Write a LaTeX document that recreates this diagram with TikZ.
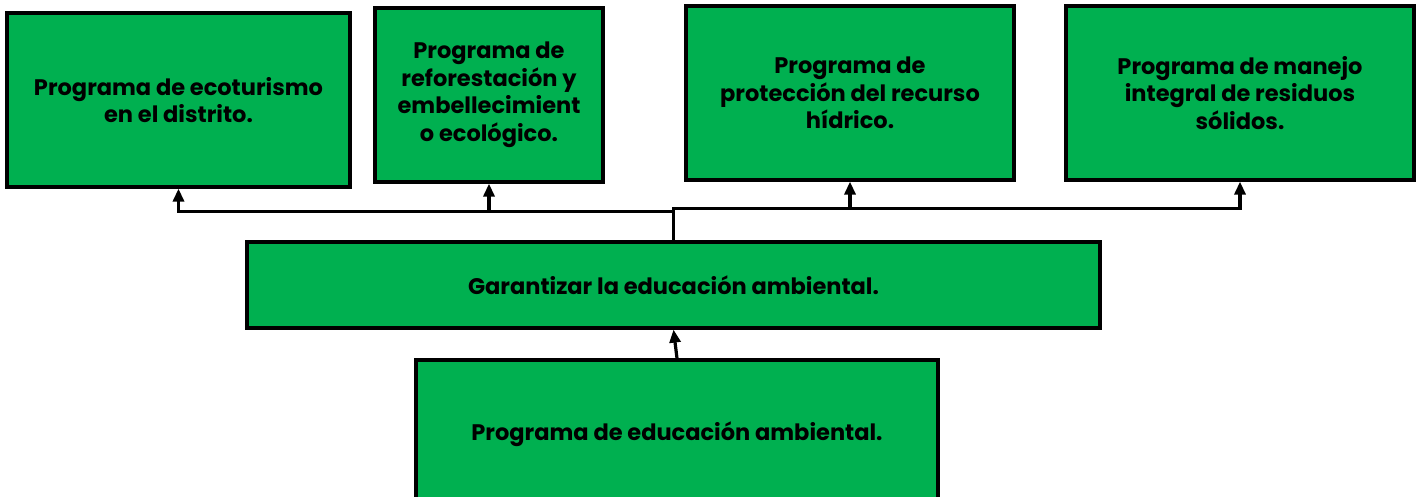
\documentclass[tikz,border=0pt]{standalone}
\usepackage{fontspec}
\setmainfont{Poppins}
\usetikzlibrary{arrows.meta}

\definecolor{boxgreen}{RGB}{0,176,80}

\begin{document}
\begin{tikzpicture}[x=1pt, y=-1pt]

\useasboundingbox (0, 0) rectangle (1421, 497);

\begin{scope}[every node/.style={rectangle, draw=black, line width=3.2pt, fill=boxgreen, align=center,
                                  font=\bfseries\fontsize{22.5}{27.5}\selectfont}]
    \node (p1) at (178.5, 100) [minimum width=343pt, minimum height=174pt] {Programa de ecoturismo\\en el distrito.};
    \node (p2) at (489, 95) [minimum width=228pt, minimum height=174pt] {Programa de\\reforestación y\\embellecimient\\o ecológico.};
    \node (p3) at (850, 93) [minimum width=328pt, minimum height=174pt] {Programa de\\protección del recurso\\hídrico.};
    \node (p4) at (1240, 93) [minimum width=348pt, minimum height=174pt] {Programa de manejo\\integral de residuos\\sólidos.};

    \node (g) at (673.5, 285) [minimum width=853pt, minimum height=86pt] {Garantizar la educación ambiental.};

    \node (e) at (677, 434) [minimum width=522pt, minimum height=148pt] {Programa de educación ambiental.};
\end{scope}

\begin{scope}[>={Triangle[length=13pt, width=11pt]},
              every path/.style={draw=black, line width=3.2pt}]
    \path [->] (g.north) -- ++(0, -29) -| (p1.south);
    \path [->] (g.north) ++(0, -29) -| (p2.south);
    \path [->] (g.north) -- ++(0, -32) -| (p4.south);
    \path [->] (g.north) ++(0, -32) -| (p3.south);

    \path [->] (e.north) -- (g.south);
\end{scope}

\end{tikzpicture}
\end{document}
